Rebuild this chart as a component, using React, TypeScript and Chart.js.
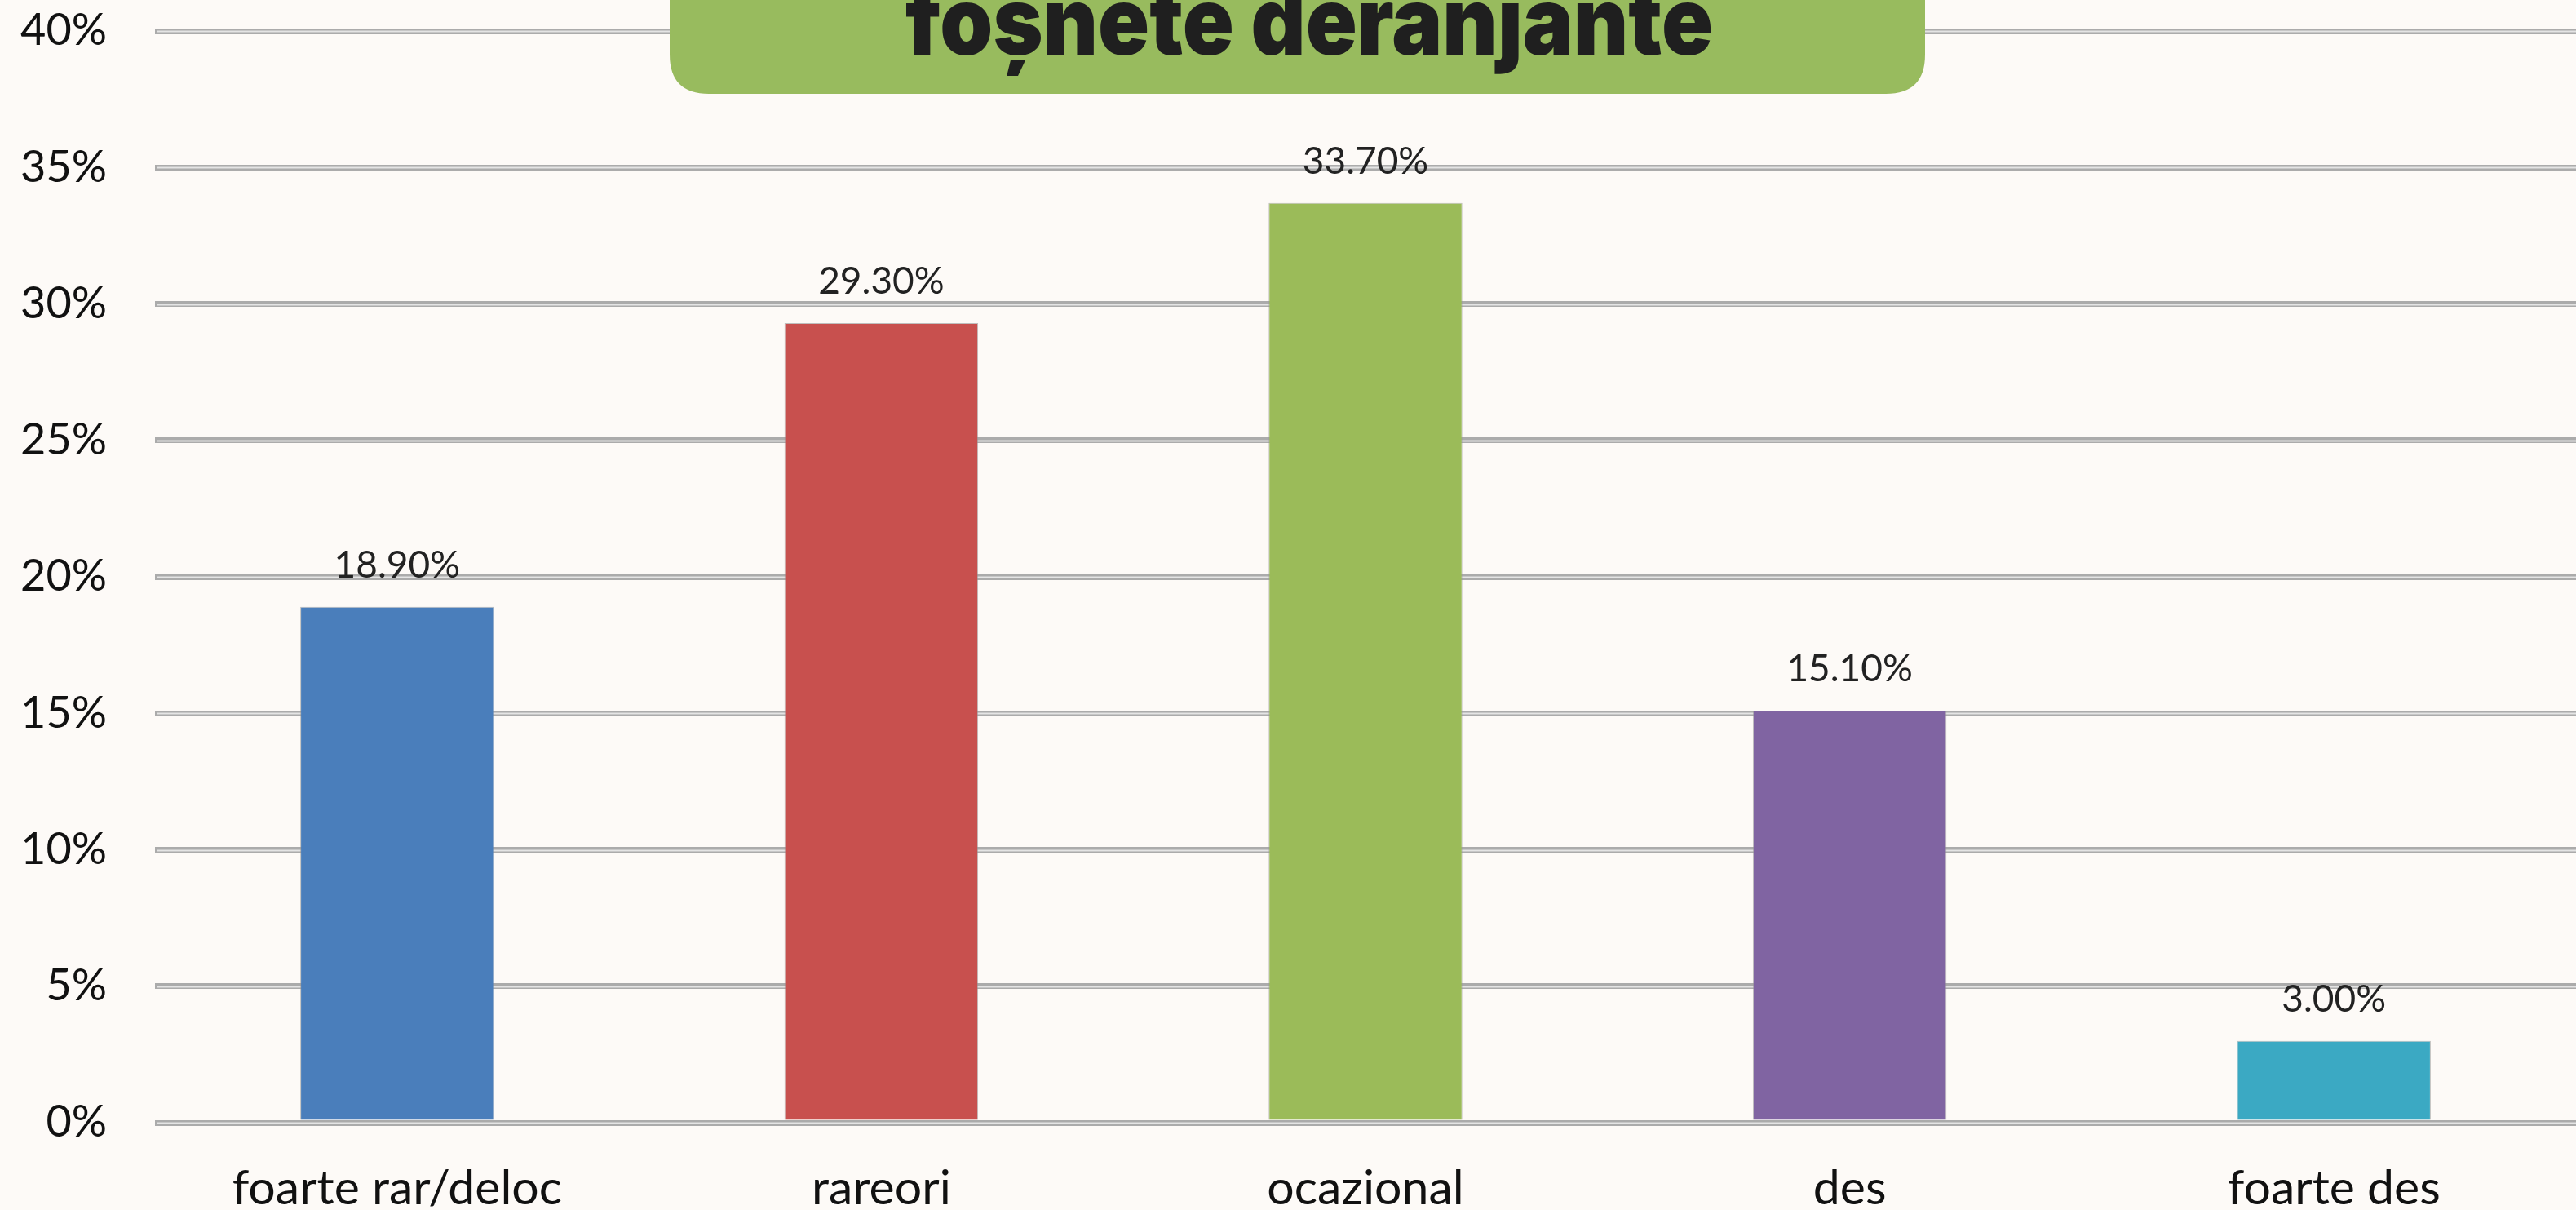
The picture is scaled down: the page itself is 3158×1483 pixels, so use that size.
import React, { useEffect, useRef } from "react";
import { Chart, registerables } from "chart.js";

Chart.register(...registerables);

const categories = ["foarte rar/deloc", "rareori", "ocazional", "des", "foarte des"];
const values = [18.9, 29.3, 33.7, 15.1, 3.0];
const barColors = ["#4a7ebb", "#c8504e", "#9bbb59", "#8064a2", "#3ba9c3"];
const yMin = 0;
const yMax = 40;
const yStep = 5;
const titleText = "foșnete deranjante";

const W = 3158;
const H = 1483;
const BG = "#fdfaf7";
const FONT = "Lato, 'Noto Sans', sans-serif";

const bgPlugin = {
  id: "bgFill",
  beforeDraw(chart: any) {
    const ctx = chart.ctx;
    ctx.save();
    ctx.fillStyle = BG;
    ctx.fillRect(0, 0, chart.width, chart.height);
    ctx.restore();
  },
};

const gridHighlight = {
  id: "gridHighlight",
  beforeDatasetsDraw(chart: any) {
    const ctx = chart.ctx;
    const y = chart.scales.y;
    const area = chart.chartArea;
    ctx.save();
    ctx.strokeStyle = "#e4e4e4";
    ctx.lineWidth = 2;
    y.ticks.forEach((t: any) => {
      const py = Math.round(y.getPixelForValue(t.value)) + 0.5;
      ctx.beginPath();
      ctx.moveTo(area.left + 2, py);
      ctx.lineTo(area.right, py);
      ctx.stroke();
    });
    ctx.restore();
  },
};

const valueLabels = {
  id: "valueLabels",
  afterDatasetsDraw(chart: any) {
    const ctx = chart.ctx;
    const meta = chart.getDatasetMeta(0);
    ctx.save();
    ctx.font = `46px ${FONT}`;
    ctx.fillStyle = "#222222";
    ctx.textAlign = "center";
    ctx.textBaseline = "alphabetic";
    meta.data.forEach((bar: any, i: number) => {
      ctx.fillText(values[i].toFixed(2) + "%", bar.x, bar.y - 36);
    });
    ctx.restore();
  },
};

const titleBox = {
  id: "titleBox",
  afterDraw(chart: any) {
    const ctx = chart.ctx;
    const left = 821;
    const right = 2360;
    const bottom = 115;
    const r = 48;
    ctx.save();
    ctx.fillStyle = "#98bb5e";
    ctx.beginPath();
    ctx.moveTo(left, -10);
    ctx.lineTo(right, -10);
    ctx.lineTo(right, bottom - r);
    ctx.quadraticCurveTo(right, bottom, right - r, bottom);
    ctx.lineTo(left + r, bottom);
    ctx.quadraticCurveTo(left, bottom, left, bottom - r);
    ctx.closePath();
    ctx.fill();
    ctx.font = `900 116px Inter, 'Open Sans', sans-serif`;
    ctx.fillStyle = "#1f1f1f";
    ctx.textBaseline = "alphabetic";
    ctx.textAlign = "center";
    const w = ctx.measureText(titleText).width;
    const target = 990;
    const sx = w > 0 ? target / w : 1;
    ctx.translate(1605, 67);
    ctx.scale(sx, 1);
    ctx.fillText(titleText, 0, 0);
    ctx.restore();
  },
};

export default function App() {
  const ref = useRef<HTMLCanvasElement | null>(null);

  useEffect(() => {
    if (!ref.current) return;
    const chart = new Chart(ref.current, {
      type: "bar",
      data: {
        labels: categories,
        datasets: [
          {
            data: values,
            backgroundColor: barColors,
            borderColor: "rgba(150,150,150,0.6)",
            borderWidth: 1,
            categoryPercentage: 1,
            barPercentage: 0.4,
          },
        ],
      },
      options: {
        responsive: false,
        animation: false,
        devicePixelRatio: 1,
        layout: { padding: { top: 38, right: 0, bottom: 0, left: 0 } },
        plugins: {
          legend: { display: false },
          title: { display: false },
          tooltip: { enabled: false },
        },
        scales: {
          x: {
            grid: { display: false, drawTicks: false },
            border: { display: false },
            ticks: {
              color: "#111111",
              font: { family: FONT, size: 59 },
              padding: 46,
              maxRotation: 0,
              autoSkip: false,
            },
            afterFit(scale: any) {
              scale.height = 107;
              scale.paddingLeft = 0;
              scale.paddingRight = 0;
            },
          },
          y: {
            min: yMin,
            max: yMax,
            grid: { color: "#ababab", lineWidth: 7, drawTicks: false },
            border: { display: false },
            ticks: {
              stepSize: yStep,
              color: "#111111",
              font: { family: FONT, size: 54 },
              padding: 59,
              callback: (v: any) => `${v}%`,
            },
            afterFit(scale: any) {
              scale.width = 190;
              scale.paddingTop = 0;
              scale.paddingBottom = 0;
            },
          },
        },
      },
      plugins: [bgPlugin, gridHighlight, valueLabels, titleBox],
    });
    return () => chart.destroy();
  }, []);

  return (
    <div style={{ position: "fixed", left: 0, top: 0, width: W, height: H, background: BG }}>
      <canvas ref={ref} width={W} height={H} style={{ width: W, height: H, display: "block" }} />
    </div>
  );
}
